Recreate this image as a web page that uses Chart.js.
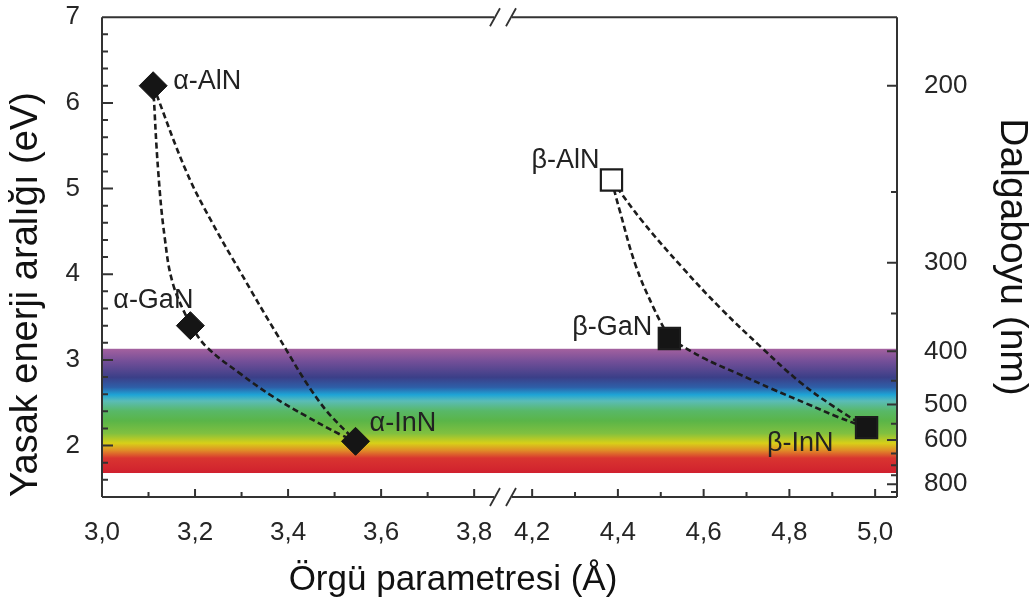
<!DOCTYPE html>
<html lang="tr">
<head>
<meta charset="UTF-8">
<title>Yasak enerji aralığı – örgü parametresi</title>
<script src="https://cdn.jsdelivr.net/npm/chart.js@4.4.1/dist/chart.umd.min.js"></script>
<style>
  html, body { margin: 0; padding: 0; background: #fff; }
  #wrap { width: 1036px; height: 608px; position: relative; }
</style>
</head>
<body>
<div id="wrap"><canvas id="gapChart"></canvas></div>
<script>
  // nitride end points: lattice parameter (Å) and band gap (eV)
  const alphaNames = ['α-AlN', 'α-GaN', 'α-InN'];
  const alphaLattice = [3.11, 3.19, 3.545];
  const alphaGap = [6.2, 3.4, 2.05];

  const betaNames = ['β-AlN', 'β-GaN', 'β-InN'];
  const betaLattice = [4.385, 4.52, 4.98];
  const betaGap = [5.1, 3.25, 2.21];

  // points along the ternary alloy curves (between the end points)
  const alphaAlGaLattice = [3.121, 3.135, 3.153];
  const alphaAlGaGap = [5.19, 4.42, 3.88];
  const alphaAlInLattice = [3.182, 3.236, 3.297, 3.376, 3.469];
  const alphaAlInGap = [5.19, 4.61, 4.03, 3.30, 2.50];
  const alphaGaInLattice = [3.225, 3.297, 3.368, 3.44, 3.512];
  const alphaGaInGap = [3.15, 2.84, 2.57, 2.34, 2.13];

  const betaAlGaLattice = [4.405, 4.441, 4.483];
  const betaAlGaGap = [4.73, 4.11, 3.61];
  const betaAlInLattice = [4.46, 4.55, 4.64, 4.736, 4.825, 4.902];
  const betaAlInGap = [4.60, 4.08, 3.60, 3.14, 2.74, 2.46];
  const betaGaInLattice = [4.60, 4.68, 4.76, 4.84, 4.91];
  const betaGaInGap = [3.02, 2.84, 2.66, 2.49, 2.34];

  // visible range (eV)
  const visibleTop = 3.13;
  const visibleBottom = 1.68;

  // axes
  const latticeMajorTicks = [3.0, 3.2, 3.4, 3.6, 3.8, 4.2, 4.4, 4.6, 4.8, 5.0];
  const latticeMinorTicks = [3.1, 3.3, 3.5, 3.7, 4.3, 4.5, 4.7, 4.9];
  const wavelengthTicks = [200, 250, 300, 350, 400, 450, 500, 550, 600, 650, 700, 750, 800, 850];
  const wavelengthLabels = [200, 300, 400, 500, 600, 800];
  const hcEvNm = 1240;

  // the lattice axis is broken between the two phases
  const xLeftMin = 3.0, xLeftMax = 3.862;
  const xRightMin = 4.132, xRightMax = 5.051;
  const leftShare = 0.5044;

  const FONT = '"Liberation Sans", Arial, sans-serif';
  const AXIS = '#333';

  class BrokenLinearScale extends Chart.LinearScale {
    static id = 'brokenLinear';
    static defaults = Chart.LinearScale.defaults;

    getPixelForValue(value) {
      if (value === null || value === undefined || Number.isNaN(value)) return NaN;
      let d;
      if (value <= xLeftMax) {
        d = (value - xLeftMin) / (xLeftMax - xLeftMin) * leftShare;
      } else if (value >= xRightMin) {
        d = leftShare + (value - xRightMin) / (xRightMax - xRightMin) * (1 - leftShare);
      } else {
        d = leftShare;
      }
      return this.getPixelForDecimal(d);
    }

    getValueForPixel(pixel) {
      const d = this.getDecimalForPixel(pixel);
      if (d <= leftShare) return xLeftMin + d / leftShare * (xLeftMax - xLeftMin);
      return xRightMin + (d - leftShare) / (1 - leftShare) * (xRightMax - xRightMin);
    }
  }
  Chart.register(BrokenLinearScale);

  const toPoints = (xs, ys) => xs.map((x, i) => ({ x, y: ys[i] }));
  const curve = (xs, ys, a, b, midX, midY) =>
    [{ x: xs[a], y: ys[a] }, ...toPoints(midX, midY), { x: xs[b], y: ys[b] }];

  const curveStyle = {
    showLine: true,
    pointRadius: 0,
    borderColor: '#1c1c1c',
    borderWidth: 2.6,
    borderDash: [6, 3.5],
    tension: 0.4,
    fill: false
  };

  const spectrumStops = [
    [0.00, '#a4619f'], [0.10, '#744f98'], [0.23, '#3b3f88'], [0.31, '#2e5fa8'],
    [0.37, '#1ea4d6'], [0.42, '#5abcb8'], [0.50, '#58b868'], [0.58, '#5ab548'],
    [0.68, '#80c040'], [0.76, '#d8d018'], [0.82, '#e08a28'], [0.88, '#d93530'],
    [1.00, '#d0202e']
  ];

  const spectrumBand = {
    id: 'spectrumBand',
    beforeDatasetsDraw(chart) {
      const { ctx, chartArea: { left, right }, scales: { y } } = chart;
      const top = y.getPixelForValue(visibleTop);
      const bottom = y.getPixelForValue(visibleBottom);
      const g = ctx.createLinearGradient(0, top, 0, bottom);
      spectrumStops.forEach(([f, c]) => g.addColorStop(f, c));
      ctx.save();
      ctx.fillStyle = g;
      ctx.fillRect(left, top, right - left, bottom - top);
      ctx.restore();
    }
  };

  const labelOffsets = {
    'α-AlN': { dx: 20, dy: -4, align: 'left' },
    'α-GaN': { dx: 3, dy: -25, align: 'right' },
    'α-InN': { dx: 14, dy: -18, align: 'left' },
    'β-AlN': { dx: -12, dy: -19, align: 'right' },
    'β-GaN': { dx: -17, dy: -11, align: 'right' },
    'β-InN': { dx: -33, dy: 16, align: 'right' }
  };

  const frame = {
    id: 'frame',
    afterDatasetsDraw(chart) {
      const { ctx, chartArea: { left, right, top, bottom }, scales: { x, y, y2 } } = chart;
      const gapX = x.getPixelForValue(xLeftMax);
      ctx.save();
      ctx.strokeStyle = AXIS;
      ctx.lineWidth = 2;
      ctx.beginPath();
      ctx.moveTo(left, top); ctx.lineTo(left, bottom);
      ctx.moveTo(right, top); ctx.lineTo(right, bottom);
      [top, bottom].forEach(py => {
        ctx.moveTo(left, py); ctx.lineTo(gapX - 9, py);
        ctx.moveTo(gapX + 9, py); ctx.lineTo(right, py);
      });
      // inward tick marks
      y.ticks.forEach(t => {
        const py = y.getPixelForValue(t.value);
        const major = Math.abs(t.value - Math.round(t.value)) < 1e-6;
        ctx.moveTo(left, py); ctx.lineTo(left + (major ? 11 : 6), py);
      });
      y2.ticks.forEach(t => {
        const py = y2.getPixelForValue(t.value);
        const major = wavelengthLabels.includes(Math.round(hcEvNm / t.value));
        ctx.moveTo(right, py); ctx.lineTo(right - (major ? 10 : 6), py);
      });
      x.ticks.forEach(t => {
        const px = x.getPixelForValue(t.value);
        const major = latticeMajorTicks.includes(t.value);
        ctx.moveTo(px, bottom); ctx.lineTo(px, bottom - (major ? 8 : 5));
      });
      ctx.stroke();

      // break marks
      ctx.lineWidth = 1.8;
      ctx.beginPath();
      [top, bottom].forEach(py => [-8, 8].forEach(dx => {
        ctx.moveTo(gapX + dx - 5, py + 9);
        ctx.lineTo(gapX + dx + 5, py - 9);
      }));
      ctx.stroke();

      // point names
      ctx.font = '27px ' + FONT;
      ctx.fillStyle = '#222';
      ctx.textBaseline = 'middle';
      [[alphaNames, alphaLattice, alphaGap], [betaNames, betaLattice, betaGap]].forEach(([names, xs, ys]) => {
        names.forEach((n, i) => {
          const o = labelOffsets[n];
          ctx.textAlign = o.align;
          ctx.fillText(n, x.getPixelForValue(xs[i]) + o.dx, y.getPixelForValue(ys[i]) + o.dy);
        });
      });

      // lattice axis title
      ctx.font = '35px ' + FONT;
      ctx.fillStyle = '#111';
      ctx.textAlign = 'center';
      ctx.fillText('Örgü parametresi (Å)', 453, 580);
      ctx.restore();
    }
  };

  const tickFont = { family: FONT, size: 26 };

  new Chart(document.getElementById('gapChart'), {
    type: 'scatter',
    data: {
      datasets: [
        {
          label: 'α',
          data: toPoints(alphaLattice, alphaGap),
          pointStyle: 'rectRot',
          pointRadius: 14,
          backgroundColor: '#151515',
          borderColor: '#151515',
          borderWidth: 1
        },
        {
          label: 'β',
          data: toPoints(betaLattice, betaGap),
          pointStyle: 'rect',
          pointRadius: 15,
          backgroundColor: ['#ffffff', '#151515', '#151515'],
          borderColor: '#1c1c1c',
          borderWidth: 2.2
        },
        { ...curveStyle, data: curve(alphaLattice, alphaGap, 0, 1, alphaAlGaLattice, alphaAlGaGap) },
        { ...curveStyle, data: curve(alphaLattice, alphaGap, 0, 2, alphaAlInLattice, alphaAlInGap) },
        { ...curveStyle, data: curve(alphaLattice, alphaGap, 1, 2, alphaGaInLattice, alphaGaInGap) },
        { ...curveStyle, data: curve(betaLattice, betaGap, 0, 1, betaAlGaLattice, betaAlGaGap) },
        { ...curveStyle, data: curve(betaLattice, betaGap, 0, 2, betaAlInLattice, betaAlInGap) },
        { ...curveStyle, data: curve(betaLattice, betaGap, 1, 2, betaGaInLattice, betaGaInGap) }
      ]
    },
    options: {
      responsive: true,
      maintainAspectRatio: false,
      animation: false,
      layout: { padding: { top: 13, left: 0, right: 0, bottom: 0 } },
      plugins: { legend: { display: false }, tooltip: { enabled: false } },
      scales: {
        x: {
          type: 'brokenLinear',
          position: 'bottom',
          min: xLeftMin,
          max: xRightMax,
          grid: { display: false, drawTicks: false },
          border: { display: false },
          afterBuildTicks: s => {
            s.ticks = [...latticeMajorTicks, ...latticeMinorTicks].sort((a, b) => a - b).map(v => ({ value: v }));
          },
          afterFit: s => { s.height = 111; s.paddingLeft = 0; s.paddingRight = 0; },
          ticks: {
            autoSkip: false,
            maxRotation: 0,
            padding: 20,
            color: '#262626',
            font: tickFont,
            callback: v => latticeMajorTicks.includes(v) ? v.toFixed(1).replace('.', ',') : ''
          }
        },
        y: {
          position: 'left',
          min: 1.4,
          max: 7,
          grid: { display: false, drawTicks: false },
          border: { display: false },
          afterFit: s => { s.width = 102; s.paddingTop = 0; s.paddingBottom = 0; },
          ticks: {
            stepSize: 0.2,
            autoSkip: false,
            padding: 22,
            color: '#262626',
            font: tickFont,
            callback: v => Math.abs(v - Math.round(v)) < 1e-6 ? String(Math.round(v)) : ''
          },
          title: {
            display: true,
            text: 'Yasak enerji aralığı (eV)',
            align: 'start',
            color: '#111',
            font: { family: FONT, size: 38 },
            padding: { top: 4, bottom: 0 }
          }
        },
        y2: {
          position: 'right',
          min: 1.4,
          max: 7,
          grid: { display: false, drawTicks: false },
          border: { display: false },
          afterBuildTicks: s => { s.ticks = wavelengthTicks.map(l => ({ value: hcEvNm / l })); },
          afterFit: s => { s.width = 139; s.paddingTop = 0; s.paddingBottom = 0; },
          ticks: {
            autoSkip: false,
            padding: 27,
            color: '#262626',
            font: tickFont,
            callback: v => {
              const l = Math.round(hcEvNm / v);
              return wavelengthLabels.includes(l) ? String(l) : '';
            }
          },
          title: {
            display: true,
            text: 'Dalgaboyu (nm)',
            color: '#111',
            font: { family: FONT, size: 39 },
            padding: { top: 1, bottom: 0 }
          }
        }
      }
    },
    plugins: [spectrumBand, frame]
  });
</script>
</body>
</html>
